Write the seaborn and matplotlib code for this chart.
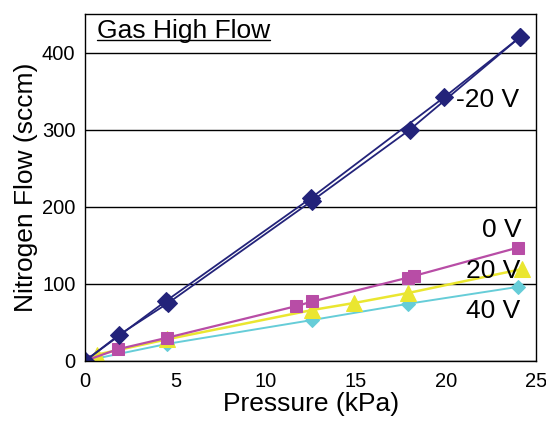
import matplotlib
matplotlib.use("Agg")
import matplotlib.pyplot as plt
import seaborn as sns
import pandas as pd
from matplotlib.lines import Line2D

sns.set_style("white")
plt.rcParams['font.family'] = ['Liberation Sans', 'DejaVu Sans']

# ---- data ----
p_m20_up = [0, 1.9, 4.6, 12.6, 18.0, 24.1]
f_m20_up = [0, 34, 75, 208, 300, 420]
p_m20_down = [24.1, 19.9, 12.5, 4.5, 0]
f_m20_down = [420, 342, 211, 78, 0]

p_0 = [0, 1.8, 4.55, 11.7, 12.6, 17.9, 18.2, 24.0]
f_0 = [0, 15, 30, 71, 77, 108, 110, 147]

p_20 = [0, 0.65, 4.55, 12.6, 14.9, 17.9, 24.2]
f_20 = [0, 8, 28, 66, 75, 88, 119]

p_40 = [0, 4.55, 12.6, 17.9, 24.0]
f_40 = [0, 22, 53, 74, 96]

labels = ["-20 V", "0 V", "20 V", "40 V"]
label_x = [22.3, 23.1, 22.6, 22.6]
label_y = [339, 170, 116, 65]

navy = "#23237A"
magenta = "#B84DA6"
yellow = "#EAE630"
cyan = "#66CDD8"

fig = plt.figure(figsize=(5.46, 4.26), dpi=100)
ax = fig.add_axes([0.156, 0.153, 0.826, 0.814])

def draw(x, y, color, marker, ms, lw=1.4):
    df = pd.DataFrame({"p": x, "f": y})
    sns.lineplot(data=df, x="p", y="f", sort=False, ax=ax, color=color,
                 marker=marker, markersize=ms, markeredgecolor=color,
                 linewidth=lw, estimator=None)

draw(p_40, f_40, cyan, "D", 7, 1.4)
draw(p_20, f_20, yellow, "^", 12, 1.8)
draw(p_0, f_0, magenta, "s", 9, 1.6)
draw(p_m20_up, f_m20_up, navy, "D", 9, 1.3)
draw(p_m20_down, f_m20_down, navy, "D", 9, 1.3)

ax.set_xlim(0, 25)
ax.set_ylim(0, 450)
ax.set_xticks([0, 5, 10, 15, 20, 25])
ax.set_yticks([0, 100, 200, 300, 400])
ax.yaxis.grid(True, color="black", linewidth=1.0)
ax.xaxis.grid(False)
ax.set_axisbelow(True)
for s in ax.spines.values():
    s.set_color("black")
    s.set_linewidth(1.0)
ax.tick_params(axis="both", direction="out", length=5, width=1, color="black",
               labelsize=14.5, labelcolor="black", pad=3)
ax.tick_params(axis="y", length=4)
ax.set_xlabel("Pressure (kPa)", fontsize=19, color="black", labelpad=1)
ax.set_ylabel("Nitrogen Flow (sccm)", fontsize=19, color="black", labelpad=3)

for t, x, y in zip(labels, label_x, label_y):
    ax.text(x, y, t, fontsize=19, ha="center", va="center", color="black")

title = ax.text(0.67, 428, "Gas High Flow", fontsize=19, ha="left", va="center", color="black")
fig.canvas.draw()
bb = title.get_window_extent(renderer=fig.canvas.get_renderer())
inv = fig.transFigure.inverted()
(x0, y0), (x1, y1) = inv.transform([(bb.x0, bb.y0), (bb.x1, bb.y0)])
fig.add_artist(Line2D([x0, x1], [y0 + 0.006, y0 + 0.006], color="black", linewidth=1.0,
                      transform=fig.transFigure))

fig.savefig("out.png", dpi=100)
